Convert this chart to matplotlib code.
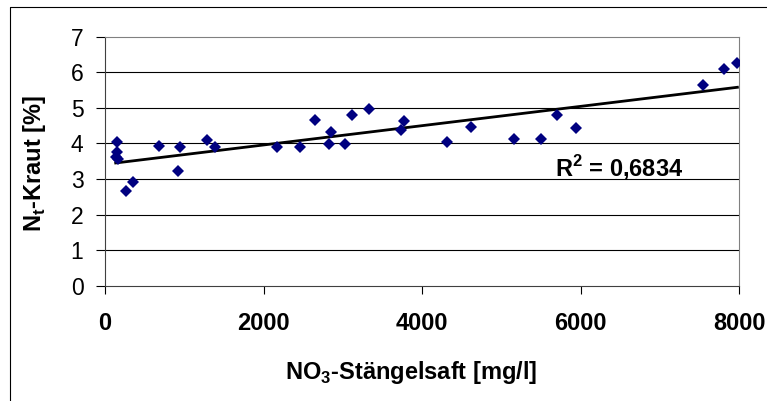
import numpy as np
import matplotlib.pyplot as plt
from matplotlib.lines import Line2D

plt.rcParams['font.family'] = ['Liberation Sans', 'DejaVu Sans']

# Datos
no3 = [150, 135, 160, 155, 260, 357, 680, 920, 941, 1281, 1386, 2167, 2466,
       2650, 2856, 2831, 3033, 3112, 3335, 3730, 3772, 4318, 4620, 5166,
       5506, 5704, 5943, 7551, 7812, 7980]
nt = [3.76, 3.62, 3.57, 4.05, 2.67, 2.91, 3.94, 3.22, 3.89, 4.10, 3.91, 3.89,
      3.89, 4.66, 4.31, 3.98, 3.98, 4.79, 4.98, 4.38, 4.62, 4.03, 4.47, 4.12,
      4.12, 4.79, 4.43, 5.65, 6.09, 6.27]
x_ticks = [0, 2000, 4000, 6000, 8000]
y_ticks = [0, 1, 2, 3, 4, 5, 6, 7]
r2_text = 'R$^\\mathregular{2}$ = 0,6834'

x = np.array(no3)
y = np.array(nt)

# Linea de tendencia lineal
a, b = np.polyfit(x, y, 1)
xt = np.array([x.min(), x.max()])

fig = plt.figure(figsize=(7.67, 4.01), dpi=100)
ax = fig.add_axes([105/767, 1 - 285.7/401, (739-105)/767, (285.7-36.7)/401])

ax.set_xlim(0, 8000)
ax.set_ylim(0, 7)
ax.set_xticks(x_ticks)
ax.set_yticks(y_ticks)
ax.set_xticklabels([str(v) for v in x_ticks], fontweight='bold', fontsize=17)
ax.set_yticklabels([str(v) for v in y_ticks], fontsize=16.5)

for g in y_ticks[1:-1]:
    ax.axhline(g, color='black', lw=0.8, zorder=1)

ax.plot(xt, a * xt + b, color='black', lw=2, zorder=2)
ax.plot(x, y, 'D', color='#000080', ms=6, mew=0, zorder=3)

ax.text(5680, 3.08, r2_text, fontsize=17, fontweight='bold',
        ha='left', va='baseline')

ax.spines['top'].set_color('#808080')
ax.spines['right'].set_color('#808080')
ax.spines['left'].set_color('#404040')
ax.spines['bottom'].set_color('#404040')
ax.tick_params(axis='x', direction='out', length=6, width=0.8, pad=13)
ax.tick_params(axis='y', direction='out', length=6.5, width=0.8, pad=9)

ax.set_xlabel('NO$_\\mathregular{3}$-Stängelsaft [mg/l]', fontsize=17,
              fontweight='bold')
ax.xaxis.set_label_coords(0.483, -0.295)
ax.set_ylabel('N$_\\mathregular{t}$-Kraut [%]', fontsize=17,
              fontweight='bold')
ax.yaxis.set_label_coords(-0.09, 0.49)

# Marco exterior del grafico (cortado a la derecha y abajo)
fig.add_artist(Line2D([10/767, 10/767, 1.0], [0.0, 1 - 7/401, 1 - 7/401],
                      transform=fig.transFigure, color='black', lw=0.8))

fig.savefig('out.png', dpi=100)
